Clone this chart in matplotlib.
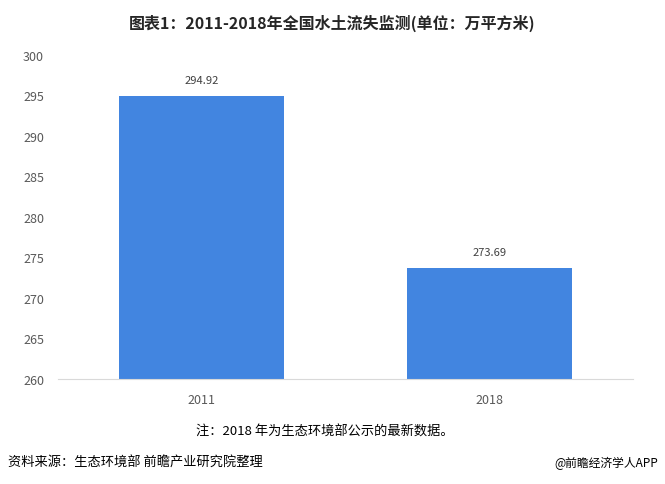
import matplotlib
matplotlib.use("Agg")
import matplotlib.pyplot as plt

plt.rcParams['font.family'] = ['Noto Sans CJK SC', 'DejaVu Sans']

# dati
anni = ['2011', '2018']
valori = [294.92, 273.69]
y_ticks = [260, 265, 270, 275, 280, 285, 290, 295, 300]

fig = plt.figure(figsize=(6.65, 4.85), dpi=100)
ax = fig.add_axes([58/665, 105/485, 575/665, 324/485])

x = list(range(len(anni)))
bars = ax.bar(x, valori, width=0.574, color='#4285E0')
ax.set_xlim(-0.5, len(anni) - 0.5)
ax.set_ylim(260, 300)
ax.set_yticks(y_ticks)
ax.set_xticks(x)
ax.set_xticklabels(anni)

for b, v in zip(bars, valori):
    ax.annotate(f'{v:.2f}', (b.get_x() + b.get_width() / 2, v),
                xytext=(0, 8), textcoords='offset points',
                ha='center', va='bottom', fontsize=8, color='#404040')

for s in ['top', 'right', 'left']:
    ax.spines[s].set_visible(False)
ax.spines['bottom'].set_color('#D9D9D9')
ax.tick_params(axis='both', length=0, labelsize=9, colors='#595959')
ax.tick_params(axis='x', pad=10)
ax.tick_params(axis='y', pad=10)

fig.text(0.5, 1 - 23/485, '图表1：2011-2018年全国水土流失监测(单位：万平方米)',
         ha='center', va='center', fontsize=11.5, fontweight='bold', color='#262626')
fig.text(325/665, 1 - 432/485, '注：2018 年为生态环境部公示的最新数据。',
         ha='center', va='center', fontsize=9.5, color='#000000')
fig.text(8/665, 1 - 463/485, '资料来源：生态环境部 前瞻产业研究院整理',
         ha='left', va='center', fontsize=9.5, color='#000000')
fig.text(658/665, 1 - 463/485, '@前瞻经济学人APP',
         ha='right', va='center', fontsize=8.5, color='#000000')

fig.savefig('out.png', dpi=100)
